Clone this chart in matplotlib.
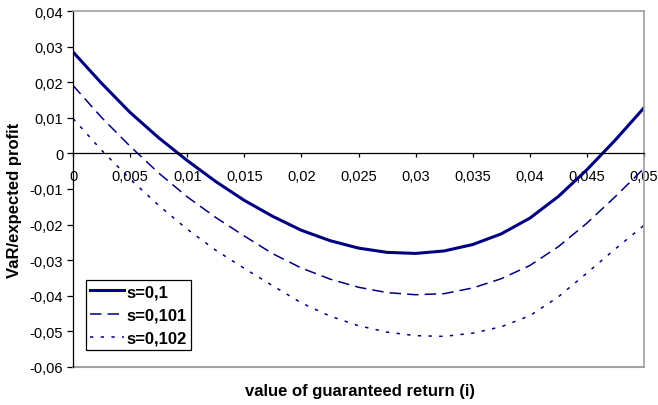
import matplotlib
matplotlib.use("Agg")
import matplotlib.pyplot as plt
from matplotlib.ticker import FixedLocator, FuncFormatter

plt.rcParams['font.family'] = ['Liberation Sans', 'DejaVu Sans']

i_values = [0.0, 0.0025, 0.005, 0.0075, 0.01, 0.0125, 0.015, 0.0175, 0.02, 0.0225,
            0.025, 0.0275, 0.03, 0.0325, 0.035, 0.0375, 0.04, 0.0425, 0.045, 0.0475, 0.05]
s_0100 = [0.0285, 0.0197, 0.0115, 0.0044, -0.0020, -0.0079, -0.0132, -0.0177, -0.0216, -0.0245,
          -0.0266, -0.0278, -0.0281, -0.0274, -0.0256, -0.0226, -0.0182, -0.0121, -0.0046, 0.0038, 0.0128]
s_0101 = [0.0191, 0.0101, 0.0020, -0.0055, -0.0122, -0.0180, -0.0232, -0.0282, -0.0322, -0.0353,
          -0.0376, -0.0391, -0.0397, -0.0394, -0.0378, -0.0352, -0.0315, -0.0262, -0.0196, -0.0121, -0.0042]
s_0102 = [0.0098, 0.0009, -0.0072, -0.0146, -0.0213, -0.0272, -0.0323, -0.0372, -0.0420, -0.0457,
          -0.0484, -0.0502, -0.0512, -0.0514, -0.0505, -0.0487, -0.0456, -0.0403, -0.0336, -0.0268, -0.0202]
series_labels = ["s=0,1", "s=0,101", "s=0,102"]
x_ticks = [0, 0.005, 0.01, 0.015, 0.02, 0.025, 0.03, 0.035, 0.04, 0.045, 0.05]
y_ticks = [0.04, 0.03, 0.02, 0.01, 0, -0.01, -0.02, -0.03, -0.04, -0.05, -0.06]
x_label = "value of guaranteed return (i)"
y_label = "VaR/expected profit"

W, H = 658, 406
fig = plt.figure(figsize=(W / 100, H / 100), dpi=100)
L, R, T, B = 73, 644, 12, 368
ax = fig.add_axes([L / W, 1 - B / H, (R - L) / W, (B - T) / H])

navy = "#000080"
ax.plot(i_values, s_0100, color=navy, lw=2.2, label=series_labels[0], solid_joinstyle='round')
ax.plot(i_values, s_0101, color=navy, lw=1.1, dashes=(7.5, 4.0), label=series_labels[1])
ax.plot(i_values, s_0102, color=navy, lw=1.1, dashes=(2.2, 4.8), label=series_labels[2])

ax.set_xlim(0, 0.05)
ax.set_ylim(-0.06, 0.04)


def fmt(v, pos=None):
    if abs(v) < 1e-12:
        return "0"
    s = ("%.3f" % v).rstrip("0").rstrip(".")
    return s.replace(".", ",")


ax.xaxis.set_major_locator(FixedLocator(x_ticks))
ax.yaxis.set_major_locator(FixedLocator(y_ticks))
ax.xaxis.set_major_formatter(FuncFormatter(fmt))
ax.yaxis.set_major_formatter(FuncFormatter(fmt))

grey = "#a0a0a0"
ax.spines['bottom'].set_position(('data', 0))
ax.spines['bottom'].set_color('black')
ax.spines['bottom'].set_linewidth(0.9)
ax.spines['left'].set_color('black')
ax.spines['left'].set_linewidth(0.9)
ax.spines['top'].set_color(grey)
ax.spines['right'].set_color(grey)
ax.spines['top'].set_linewidth(1.2)
ax.spines['right'].set_linewidth(1.2)
ax.plot([0, 1], [0, 0], transform=ax.transAxes, color=grey, lw=1.5, clip_on=False)

ax.tick_params(axis='x', direction='out', length=3, width=0.9, pad=8, labelsize=10.5)
ax.tick_params(axis='y', direction='out', length=4, width=0.9, pad=3, labelsize=10.5)

fig.text(360 / W, 1 - 392 / H, x_label, ha='center', va='center', fontsize=12, fontweight='bold')
fig.text(15 / W, 1 - 200 / H, y_label, ha='center', va='center', rotation=90, fontsize=12,
         fontweight='bold')

leg = ax.legend(loc='upper left', bbox_to_anchor=(86 / W, 1 - 281 / H), bbox_transform=fig.transFigure,
                fancybox=False, shadow=False, framealpha=1, edgecolor='black',
                handlelength=2.0, handletextpad=0.2, borderpad=0.25, labelspacing=0.5,
                borderaxespad=0, prop={'weight': 'bold', 'size': 12})
leg.get_frame().set_linewidth(0.9)

fig.savefig("out.png", dpi=100)
